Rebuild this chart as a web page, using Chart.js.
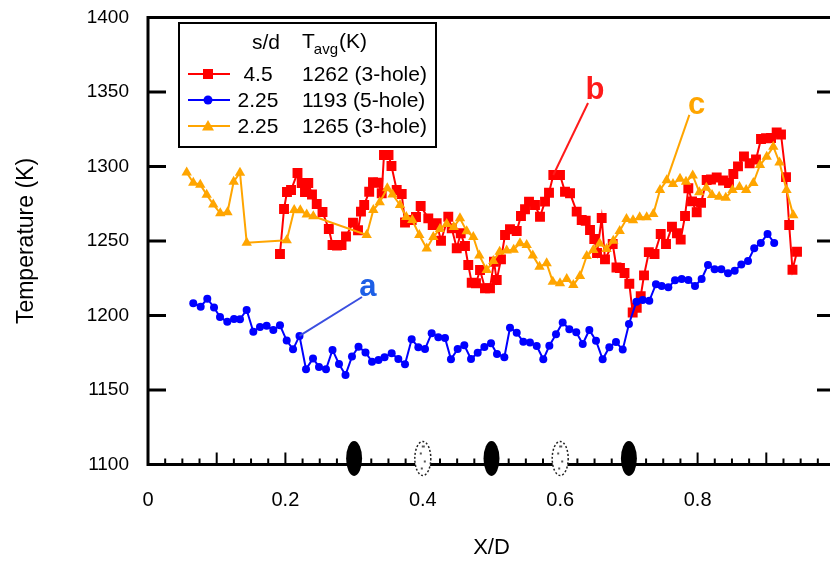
<!DOCTYPE html>
<html><head><meta charset="utf-8">
<script src="https://cdn.jsdelivr.net/npm/chart.js@4.4.1/dist/chart.umd.min.js"></script>
<style>html,body{margin:0;padding:0;overflow:hidden;background:#fff}#wrap{width:840px;height:561px}</style>
</head><body><div id="wrap"><canvas id="c" width="840" height="561"></canvas></div>
<script>
// ---- data (X/D, Temperature K) ----
const redX = [0.1921,0.1980,0.2023,0.2082,0.2176,0.2237,0.2285,0.2333,0.2387,0.2456,0.2540,0.2632,0.2686,0.2751,0.2817,0.2882,0.2984,0.3057,0.3100,0.3147,0.3220,0.3275,0.3352,0.3402,0.3435,0.3501,0.3544,0.3620,0.3693,0.3741,0.3838,0.3901,0.3969,0.4080,0.4144,0.4202,0.4265,0.4371,0.4421,0.4494,0.4552,0.4614,0.4662,0.4712,0.4774,0.4833,0.4905,0.4978,0.5036,0.5076,0.5138,0.5197,0.5269,0.5367,0.5429,0.5488,0.5546,0.5633,0.5706,0.5779,0.5837,0.5900,0.5997,0.6070,0.6143,0.6240,0.6313,0.6371,0.6434,0.6496,0.6536,0.6604,0.6652,0.6764,0.6819,0.6870,0.6936,0.7006,0.7055,0.7114,0.7172,0.7220,0.7290,0.7373,0.7463,0.7540,0.7627,0.7700,0.7754,0.7817,0.7865,0.7919,0.7987,0.8050,0.8132,0.8195,0.8278,0.8370,0.8457,0.8520,0.8588,0.8675,0.8758,0.8850,0.8923,0.8996,0.9069,0.9151,0.9214,0.9287,0.9333,0.9381,0.9447];
const redT = [1241.3,1271.5,1282.9,1284.2,1295.6,1288.9,1282.9,1288.9,1281.2,1274.8,1269.5,1258.1,1247.3,1247.0,1247.3,1253.0,1262.3,1257.2,1269.7,1274.2,1283.1,1289.4,1289.1,1282.0,1307.7,1307.7,1300.3,1284.2,1281.5,1262.4,1264.1,1266.1,1273.5,1265.2,1260.7,1261.9,1250.2,1266.3,1258.5,1245.1,1255.2,1246.6,1233.9,1222.0,1221.6,1230.5,1218.3,1218.3,1236.1,1223.8,1237.7,1254.0,1257.9,1256.7,1266.8,1271.3,1276.4,1274.2,1266.3,1276.4,1282.4,1294.3,1294.3,1283.1,1282.0,1269.7,1264.1,1263.6,1257.4,1251.3,1241.9,1265.4,1237.7,1248.0,1232.2,1231.9,1228.5,1221.3,1202.0,1205.2,1212.9,1226.9,1242.5,1241.3,1254.7,1248.0,1259.6,1255.2,1250.9,1266.8,1285.4,1276.6,1269.3,1275.6,1290.9,1291.3,1292.6,1290.6,1288.9,1295.0,1300.1,1306.7,1302.2,1304.7,1318.5,1319.0,1319.1,1322.8,1321.5,1292.9,1260.7,1230.7,1242.8];

const blueX = [0.0659,0.0767,0.0863,0.0961,0.1048,0.1154,0.1252,0.1339,0.1436,0.1533,0.1630,0.1727,0.1824,0.1921,0.2019,0.2111,0.2205,0.2300,0.2402,0.2489,0.2591,0.2686,0.2780,0.2875,0.2969,0.3064,0.3166,0.3261,0.3355,0.3443,0.3547,0.3644,0.3741,0.3838,0.3935,0.4032,0.4129,0.4226,0.4323,0.4410,0.4508,0.4604,0.4702,0.4799,0.4896,0.4993,0.5080,0.5187,0.5269,0.5367,0.5463,0.5560,0.5658,0.5754,0.5842,0.5939,0.6036,0.6133,0.6234,0.6328,0.6424,0.6521,0.6618,0.6715,0.6812,0.6910,0.7001,0.7110,0.7201,0.7297,0.7394,0.7477,0.7574,0.7671,0.7768,0.7865,0.7962,0.8059,0.8151,0.8248,0.8345,0.8443,0.8540,0.8636,0.8734,0.8824,0.8920,0.9018,0.9115];
const blueT = [1208.2,1205.9,1211.3,1205.4,1199.0,1195.8,1197.7,1197.5,1203.7,1189.1,1192.3,1193.1,1190.3,1193.4,1183.2,1177.3,1186.3,1163.9,1171.2,1165.5,1163.9,1176.9,1167.5,1160.1,1172.4,1179.1,1175.2,1169.0,1170.1,1172.0,1174.6,1170.8,1167.3,1184.0,1178.7,1177.5,1188.1,1185.4,1184.9,1170.6,1177.5,1180.0,1170.8,1175.0,1178.9,1181.4,1174.2,1172.0,1191.8,1188.5,1182.4,1181.8,1179.5,1170.6,1179.7,1187.4,1195.3,1190.8,1188.8,1180.9,1190.3,1183.1,1170.6,1178.7,1182.2,1177.1,1194.3,1209.3,1210.4,1209.9,1221.0,1219.8,1218.9,1223.6,1224.5,1223.8,1219.8,1224.5,1233.9,1231.0,1231.0,1228.3,1230.1,1234.2,1236.6,1245.1,1248.7,1254.7,1248.7];

const orangeX = [0.0563,0.0659,0.0761,0.0854,0.0950,0.1052,0.1157,0.1247,0.1339,0.1437,0.2019,0.2128,0.2217,0.2310,0.2406,0.3183,0.3280,0.3373,0.3483,0.3559,0.3668,0.3760,0.3847,0.3949,0.4057,0.4153,0.4250,0.4348,0.4450,0.4541,0.4639,0.4735,0.4822,0.4930,0.5026,0.5119,0.5221,0.5323,0.5415,0.5512,0.5601,0.5699,0.5803,0.5892,0.5997,0.6095,0.6191,0.6288,0.6386,0.6482,0.6575,0.6674,0.6773,0.6866,0.6965,0.7060,0.7157,0.7259,0.7355,0.7453,0.7550,0.7642,0.7744,0.7831,0.7929,0.8025,0.8127,0.8210,0.8314,0.8410,0.8508,0.8610,0.8707,0.8811,0.8908,0.9006,0.9102,0.9192,0.9294,0.9393];
const orangeT = [1296.0,1289.1,1287.8,1281.1,1274.5,1268.6,1269.3,1289.8,1295.8,1248.9,1250.5,1270.8,1270.6,1267.8,1266.6,1254.0,1270.8,1276.0,1285.4,1281.2,1274.2,1266.1,1264.1,1254.0,1245.0,1252.7,1258.0,1261.4,1259.4,1265.2,1256.6,1252.7,1240.3,1230.5,1236.6,1242.8,1243.7,1244.2,1248.5,1247.3,1240.3,1232.8,1235.0,1222.7,1221.6,1224.5,1220.5,1226.5,1239.9,1243.9,1248.3,1244.7,1250.2,1256.7,1264.7,1263.9,1265.9,1265.9,1268.1,1284.2,1290.7,1288.3,1291.8,1289.8,1294.0,1282.8,1285.8,1280.9,1279.7,1279.0,1284.2,1286.2,1284.2,1288.9,1301.0,1306.6,1313.3,1302.7,1284.2,1267.2];

const xTicks = [0, 0.2, 0.4, 0.6, 0.8, 1];
const yTicks = [1100, 1150, 1200, 1250, 1300, 1350, 1400];

const legendSd = ['4.5', '2.25', '2.25'];
const legendTavg = ['1262 (3-hole)', '1193 (5-hole)', '1265 (3-hole)'];

// hole positions on the X/D axis
const holesSolidX = [0.3, 0.5, 0.7];
const holesOpenX = [0.4, 0.6];

// curve labels: name, label position, leader line from/to (data units)
const noteName = ['a', 'b', 'c'];
const noteX = [0.3202, 0.6507, 0.7987];
const noteT = [1218.5, 1351.3, 1341.3];
const leadFromX = [0.2205, 0.5900, 0.7550];
const leadFromT = [1186.3, 1294.3, 1290.7];
const leadToX = [0.3115, 0.6405, 0.7880];
const leadToT = [1212.4, 1342.6, 1334.6];

// ---- styles ----
const RED = '#ff0000', BLUE = '#0000ff', ORANGE = '#ffa500';
const FONT = "'Liberation Sans', Arial, sans-serif";
const noteColor = ['#1d5fe6', '#ff1a1a', '#ffa500'];
const noteLine = ['#3b4fe0', '#ff1a1a', '#ffa500'];

const pts = (xs, ys) => xs.map((v, i) => ({x: v, y: ys[i]}));

const framePlugin = {
  id: 'frame',
  afterDatasetsDraw(chart) {
    const {ctx, chartArea: a, scales: {x, y}} = chart;
    ctx.save();
    const ln = (x1, y1, x2, y2) => { ctx.beginPath(); ctx.moveTo(x1, y1); ctx.lineTo(x2, y2); ctx.stroke(); };
    // leader lines + labels
    ctx.lineWidth = 2;
    noteName.forEach((n, i) => {
      ctx.strokeStyle = noteLine[i];
      ln(x.getPixelForValue(leadFromX[i]), y.getPixelForValue(leadFromT[i]),
         x.getPixelForValue(leadToX[i]), y.getPixelForValue(leadToT[i]));
      ctx.fillStyle = noteColor[i];
      ctx.font = 'bold 31px ' + FONT;
      ctx.textAlign = 'center'; ctx.textBaseline = 'middle';
      ctx.fillText(n, x.getPixelForValue(noteX[i]), y.getPixelForValue(noteT[i]));
    });
    // frame
    ctx.strokeStyle = '#000';
    ctx.lineWidth = 3;
    ctx.strokeRect(a.left, a.top, a.right - a.left, a.bottom - a.top);
    // y ticks (inward, both sides)
    yTicks.forEach(v => {
      const py = y.getPixelForValue(v);
      ln(a.left, py, a.left + 18, py);
      ln(a.right - 18, py, a.right, py);
    });
    // x ticks (inward): major every 0.1, minor every 0.025
    ctx.lineWidth = 2;
    for (let k = 0; k <= 40; k++) {
      const px = x.getPixelForValue(k * 0.025);
      const len = (k % 4 === 0) ? 12 : 6;
      ln(px, a.bottom, px, a.bottom - len);
    }
    // hole markers
    const cy = y.getPixelForValue(1100) - 6;
    holesSolidX.forEach(v => {
      const px = x.getPixelForValue(v);
      ctx.beginPath(); ctx.ellipse(px, cy, 8, 17.5, 0, 0, Math.PI * 2);
      ctx.fillStyle = '#000'; ctx.fill();
    });
    holesOpenX.forEach(v => {
      const px = x.getPixelForValue(v);
      ctx.beginPath(); ctx.ellipse(px, cy, 8, 17, 0, 0, Math.PI * 2);
      ctx.fillStyle = '#fff'; ctx.fill();
      ctx.setLineDash([2, 2]); ctx.lineWidth = 1.5; ctx.strokeStyle = '#222'; ctx.stroke();
      ctx.setLineDash([]);
      ctx.fillStyle = '#555';
      ctx.fillRect(px - 3, cy - 6, 2, 2);
      ctx.fillRect(px + 1, cy + 2, 2, 2);
      ctx.fillRect(px - 2, cy + 9, 2, 2);
      ctx.fillRect(px - 1, cy - 13, 3, 2);
    });
    // legend
    const L = 179, T = 23, W = 257, H = 124;
    ctx.fillStyle = '#fff';
    ctx.fillRect(L, T, W, H);
    ctx.strokeStyle = '#000'; ctx.lineWidth = 2;
    ctx.strokeRect(L, T, W, H);
    ctx.fillStyle = '#000';
    ctx.textBaseline = 'middle';
    ctx.font = '21px ' + FONT;
    ctx.textAlign = 'center';
    ctx.fillText('s/d', 266, 43);
    ctx.textAlign = 'left';
    ctx.fillText('T', 302, 42);
    const tw = ctx.measureText('T').width;
    ctx.font = '15px ' + FONT;
    ctx.fillText('avg', 302 + tw - 1, 50);
    const aw = ctx.measureText('avg').width;
    ctx.font = '21px ' + FONT;
    ctx.fillText('(K)', 302 + tw - 1 + aw + 1, 42);
    const cols = [RED, BLUE, ORANGE];
    const rowY = [74, 100, 126];
    rowY.forEach((ry, i) => {
      ctx.strokeStyle = cols[i]; ctx.lineWidth = 2;
      ln(188, ry, 230, ry);
      ctx.fillStyle = cols[i];
      ctx.beginPath();
      if (i === 0) ctx.rect(203, ry - 5, 10, 10);
      else if (i === 1) ctx.arc(208, ry, 4.5, 0, Math.PI * 2);
      else { ctx.moveTo(208, ry - 6); ctx.lineTo(214, ry + 4.5); ctx.lineTo(202, ry + 4.5); ctx.closePath(); }
      ctx.fill();
      ctx.fillStyle = '#000';
      ctx.font = '21px ' + FONT;
      ctx.textAlign = 'center';
      ctx.fillText(legendSd[i], 258, ry + 1);
      ctx.textAlign = 'left';
      ctx.fillText(legendTavg[i], 302, ry + 1);
    });
    ctx.restore();
  }
};

const ds = (label, xs, ys, color, style, radius, order) => ({
  label, data: pts(xs, ys), showLine: true, borderColor: color, backgroundColor: color,
  borderWidth: 2, pointStyle: style, pointRadius: radius, pointBorderWidth: 0,
  pointBackgroundColor: color, order
});

new Chart(document.getElementById('c'), {
  type: 'scatter',
  data: {
    datasets: [
      ds('4.5 / 1262 (3-hole)', redX, redT, RED, 'rect', 7, 2),
      ds('2.25 / 1193 (5-hole)', blueX, blueT, BLUE, 'circle', 4, 1),
      ds('2.25 / 1265 (3-hole)', orangeX, orangeT, ORANGE, 'triangle', 6, 0)
    ]
  },
  options: {
    responsive: false, animation: false,
    layout: {autoPadding: false, padding: {left: 0, right: 5, top: 17.5, bottom: 0}},
    plugins: {legend: {display: false}, tooltip: {enabled: false}},
    scales: {
      x: {
        type: 'linear', min: 0, max: 1,
        afterBuildTicks: s => { s.ticks = xTicks.map(v => ({value: v})); },
        afterFit: s => { s.height = 96.5; s.paddingLeft = 0; s.paddingRight = 0; },
        grid: {display: false}, border: {display: false},
        ticks: {color: '#000', padding: 16, font: {family: FONT, size: 20}, maxRotation: 0,
                callback: v => String(v)},
        title: {display: true, text: 'X/D', color: '#000', font: {family: FONT, size: 22}, padding: {top: 0, bottom: 0}}
      },
      y: {
        type: 'linear', min: 1100, max: 1400,
        afterBuildTicks: s => { s.ticks = yTicks.map(v => ({value: v})); },
        afterFit: s => { s.width = 148; s.paddingTop = 0; s.paddingBottom = 0; },
        grid: {display: false}, border: {display: false},
        ticks: {color: '#000', padding: 11, font: {family: FONT, size: 19}, callback: v => String(v)},
        title: {display: true, text: 'Temperature (K)', color: '#000', font: {family: FONT, size: 23}, padding: {top: 13, bottom: 0}}
      }
    }
  },
  plugins: [framePlugin]
});
</script>
</body></html>
